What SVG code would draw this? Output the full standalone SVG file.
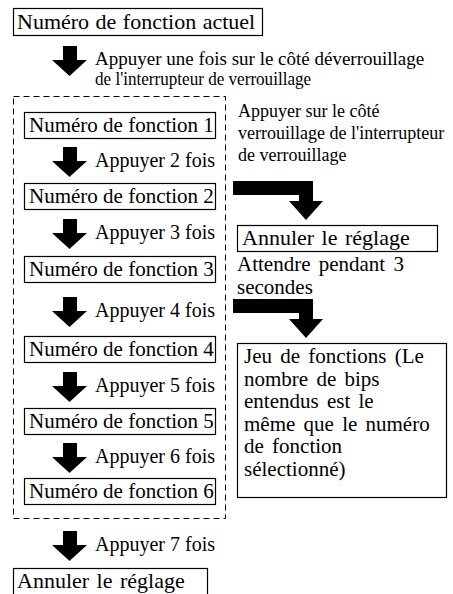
<svg xmlns="http://www.w3.org/2000/svg" width="453" height="594" viewBox="0 0 453 594">
<defs>
  <polygon id="dn" points="63,0 77,0 77,14 87,14 69.5,30 52,14 63,14" fill="#000"/>
  <polygon id="bent" points="233,0 313,0 313,20 323,20 306,39 289,20 299,20 299,14 233,14" fill="#000"/>
</defs>
<rect width="453" height="594" fill="#fff"/>

<g id="connectors">
  <use href="#dn" y="46"/>
  <use href="#dn" y="147"/>
  <use href="#dn" y="219"/>
  <use href="#dn" y="297"/>
  <use href="#dn" y="372"/>
  <use href="#dn" y="443"/>
  <use href="#dn" y="531"/>
  <use href="#bent" y="181"/>
  <use href="#bent" y="299"/>
</g>

<g id="labels" fill="#000">
  <text font-family="Liberation Serif" font-size="19" x="95" y="65">Appuyer une fois sur le côté déverrouillage</text>
  <text font-family="Liberation Serif" font-size="19" transform="translate(95,85) scale(0.9,1)" x="0" y="0">de l'interrupteur de verrouillage</text>
  <text font-family="Liberation Serif" font-size="20" x="95" y="167">Appuyer 2 fois</text>
  <text font-family="Liberation Serif" font-size="20" x="95" y="239">Appuyer 3 fois</text>
  <text font-family="Liberation Serif" font-size="20" x="95" y="317">Appuyer 4 fois</text>
  <text font-family="Liberation Serif" font-size="20" x="95" y="392">Appuyer 5 fois</text>
  <text font-family="Liberation Serif" font-size="20" x="95" y="463">Appuyer 6 fois</text>
  <text font-family="Liberation Serif" font-size="20" x="95" y="551">Appuyer 7 fois</text>
  <text font-family="Liberation Serif" font-size="18" x="238" y="117">Appuyer sur le côté</text>
  <text font-family="Liberation Serif" font-size="18" x="238" y="139">verrouillage de l'interrupteur</text>
  <text font-family="Liberation Serif" font-size="18" x="238" y="161">de verrouillage</text>
  <text font-family="Liberation Serif" font-size="21" word-spacing="3" x="237" y="271">Attendre pendant 3</text>
  <text font-family="Liberation Serif" font-size="21" x="237" y="294">secondes</text>
</g>

<rect id="group" x="13.5" y="96.5" width="212" height="422" fill="none" stroke="#000" stroke-width="1" stroke-dasharray="6 4"/>

<g id="current">
  <rect x="13.5" y="8.5" width="249" height="27" fill="#fff" stroke="#000" stroke-width="1.2"/>
  <text font-family="Liberation Serif" font-size="22" word-spacing="1" x="17" y="29">Numéro de fonction actuel</text>
</g>
<g id="f1">
  <rect x="24.5" y="112.5" width="191" height="26" fill="#fff" stroke="#000" stroke-width="1.2"/>
  <text font-family="Liberation Serif" font-size="21" x="29" y="132">Numéro de fonction 1</text>
</g>
<g id="f2">
  <rect x="24.5" y="183.5" width="191" height="26" fill="#fff" stroke="#000" stroke-width="1.2"/>
  <text font-family="Liberation Serif" font-size="21" x="29" y="203">Numéro de fonction 2</text>
</g>
<g id="f3">
  <rect x="24.5" y="256.5" width="191" height="26" fill="#fff" stroke="#000" stroke-width="1.2"/>
  <text font-family="Liberation Serif" font-size="21" x="29" y="276">Numéro de fonction 3</text>
</g>
<g id="f4">
  <rect x="24.5" y="336.5" width="191" height="26" fill="#fff" stroke="#000" stroke-width="1.2"/>
  <text font-family="Liberation Serif" font-size="21" x="29" y="356">Numéro de fonction 4</text>
</g>
<g id="f5">
  <rect x="24.5" y="408.5" width="191" height="26" fill="#fff" stroke="#000" stroke-width="1.2"/>
  <text font-family="Liberation Serif" font-size="21" x="29" y="428">Numéro de fonction 5</text>
</g>
<g id="f6">
  <rect x="24.5" y="478.5" width="191" height="26" fill="#fff" stroke="#000" stroke-width="1.2"/>
  <text font-family="Liberation Serif" font-size="21" x="29" y="498">Numéro de fonction 6</text>
</g>
<g id="cancel-bottom">
  <rect x="13.5" y="568.5" width="194" height="27" fill="#fff" stroke="#000" stroke-width="1.2"/>
  <text font-family="Liberation Serif" font-size="22" word-spacing="2" x="17" y="588">Annuler le réglage</text>
</g>
<g id="cancel-right">
  <rect x="237.5" y="225.5" width="200" height="26" fill="#fff" stroke="#000" stroke-width="1.2"/>
  <text font-family="Liberation Serif" font-size="22" word-spacing="2" x="242" y="245">Annuler le réglage</text>
</g>
<g id="function-set">
  <rect x="237.5" y="343.5" width="209" height="154" fill="#fff" stroke="#000" stroke-width="1.2"/>
  <text font-family="Liberation Serif" font-size="21" word-spacing="3" x="244" y="363">Jeu de fonctions (Le</text>
  <text font-family="Liberation Serif" font-size="21" word-spacing="3" x="244" y="386">nombre de bips</text>
  <text font-family="Liberation Serif" font-size="21" word-spacing="3" x="244" y="408">entendus est le</text>
  <text font-family="Liberation Serif" font-size="21" word-spacing="3" x="244" y="431">même que le numéro</text>
  <text font-family="Liberation Serif" font-size="21" word-spacing="3" x="244" y="453">de fonction</text>
  <text font-family="Liberation Serif" font-size="21" x="244" y="476">sélectionné)</text>
</g>
</svg>
